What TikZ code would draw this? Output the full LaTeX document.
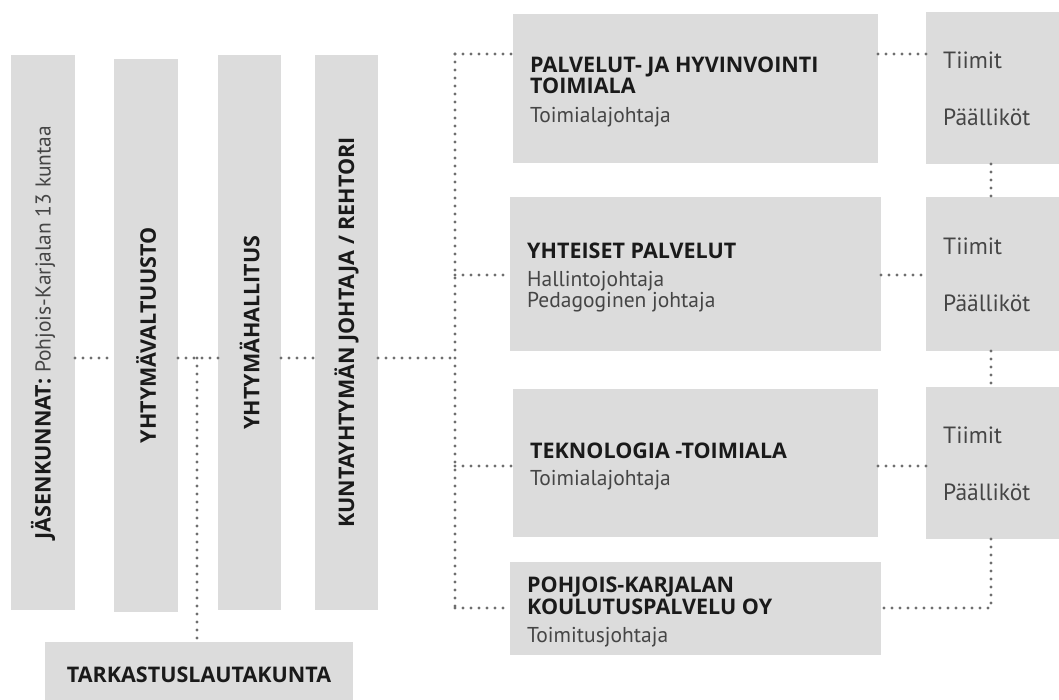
\documentclass[tikz,border=0pt]{standalone}
\usepackage{fontspec}
\setmainfont{PT Sans}
\newfontfamily\boldfam{Open Sans}
\definecolor{boxgray}{HTML}{DCDCDC}
\definecolor{boldink}{HTML}{1A1A1A}
\definecolor{regink}{HTML}{454545}
\definecolor{dotgray}{HTML}{6E6E6E}
\begin{document}
\begin{tikzpicture}[x=1pt,y=-1pt,
  box/.style={fill=boxgray, draw=none, inner sep=0pt, outer sep=0pt},
  dotline/.style={draw=dotgray, line width=3.3pt, line cap=round, dash pattern=on 0pt off 8pt},
  bt/.style={font=\fontsize{21.5}{21.5}\boldfam\bfseries, text=boldink, inner sep=0pt},
  rt/.style={font=\fontsize{21.5}{21.5}\selectfont, text=regink, inner sep=0pt},
  rs/.style={font=\fontsize{23.5}{23.5}\selectfont, text=regink, inner sep=0pt, anchor=base west}]
\useasboundingbox (0,0) rectangle (1059,699);
% vertical boxes
\node[box, minimum width=64pt, minimum height=555pt] (b1) at (43,332.5) {};
\node[box, minimum width=64pt, minimum height=553pt] (b2) at (146,335.5) {};
\node[box, minimum width=63pt, minimum height=555pt] (b3) at (249.5,332.5) {};
\node[box, minimum width=63pt, minimum height=555pt] (b4) at (346.5,332.5) {};
\node[box, minimum width=308pt, minimum height=60pt] (tark) at (199,672) {};
% middle boxes
\node[box, minimum width=365pt, minimum height=149pt] (p1) at (695.5,88.5) {};
\node[box, minimum width=371pt, minimum height=154pt] (p2) at (695.5,274) {};
\node[box, minimum width=365pt, minimum height=148pt] (p3) at (695.5,463) {};
\node[box, minimum width=371pt, minimum height=93pt] (p4) at (695.5,608.5) {};
% right boxes
\node[box, minimum width=133pt, minimum height=152pt] (r1) at (992.5,88) {};
\node[box, minimum width=133pt, minimum height=154pt] (r2) at (992.5,274) {};
\node[box, minimum width=133pt, minimum height=152pt] (r3) at (992.5,463) {};
% coordinates
\coordinate (mainy) at (0,358);
\coordinate (busTop) at (455,54);
\coordinate (busBot) at (455,608);
\coordinate (tj) at (197,358);
\coordinate (y2) at (0,275);
\coordinate (y3) at (0,466);
\coordinate (vx) at (991,0);
% connectors
\draw[dotline] (b1.east |- mainy) -- (b2.west |- mainy);
\draw[dotline] (b2.east |- mainy) -- (b3.west |- mainy);
\draw[dotline] (b3.east |- mainy) -- (b4.west |- mainy);
\draw[dotline] (b4.east |- mainy) -- (busTop |- mainy);
\draw[dotline] (busTop) -- (busBot);
\draw[dotline] (tj) -- (tj |- tark.north);
\draw[dotline] (busTop) -- (p1.west |- busTop);
\draw[dotline] (busTop |- y2) -- (p2.west |- y2);
\draw[dotline] (busTop |- y3) -- (p3.west |- y3);
\draw[dotline] (busBot) -- (p4.west |- busBot);
\draw[dotline] (p1.east |- busTop) -- (r1.west |- busTop);
\draw[dotline] (p2.east |- y2) -- (r2.west |- y2);
\draw[dotline] (p3.east |- y3) -- (r3.west |- y3);
\draw[dotline] (r1.south -| vx) -- (r2.north -| vx);
\draw[dotline] (r2.south -| vx) -- (r3.north -| vx);
\draw[dotline] (r3.south -| vx) |- (p4.east |- busBot);
% vertical texts
\node[rt, rotate=90] (v1) at (b1.center) {{\boldfam\bfseries\color{boldink}JÄSENKUNNAT:} Pohjois-Karjalan 13 kuntaa};
\node[bt, rotate=90] (v2) at (b2.center) {YHTYMÄVALTUUSTO};
\node[bt, rotate=90] (v3) at (b3.center) {YHTYMÄHALLITUS};
\node[bt, rotate=90] (v4) at (b4.center) {KUNTAYHTYMÄN JOHTAJA / REHTORI};
\node[bt] (tt) at (199,675) {TARKASTUSLAUTAKUNTA};
% middle texts
\node[bt, anchor=base west] (t1a) at (530,72) {PALVELUT- JA HYVINVOINTI};
\node[bt, anchor=base west] (t1b) at (530,93) {TOIMIALA};
\node[rt, anchor=base west] (t1c) at (530,122) {Toimialajohtaja};
\node[bt, anchor=base west] (t2a) at (527,258) {YHTEISET PALVELUT};
\node[rt, anchor=base west] (t2b) at (527,286) {Hallintojohtaja};
\node[rt, anchor=base west] (t2c) at (527,307) {Pedagoginen johtaja};
\node[bt, anchor=base west] (t3a) at (530,458) {TEKNOLOGIA -TOIMIALA};
\node[rt, anchor=base west] (t3b) at (530,485) {Toimialajohtaja};
\node[bt, anchor=base west] (t4a) at (527,592) {POHJOIS-KARJALAN};
\node[bt, anchor=base west] (t4b) at (527,614) {KOULUTUSPALVELU OY};
\node[rt, anchor=base west] (t4c) at (527,642) {Toimitusjohtaja};
% right texts
\node[rs] (r1a) at (943,68) {Tiimit};
\node[rs] (r1b) at (943,125) {Päälliköt};
\node[rs] (r2a) at (943,254) {Tiimit};
\node[rs] (r2b) at (943,311) {Päälliköt};
\node[rs] (r3a) at (943,443) {Tiimit};
\node[rs] (r3b) at (943,500) {Päälliköt};
\end{tikzpicture}
\end{document}
